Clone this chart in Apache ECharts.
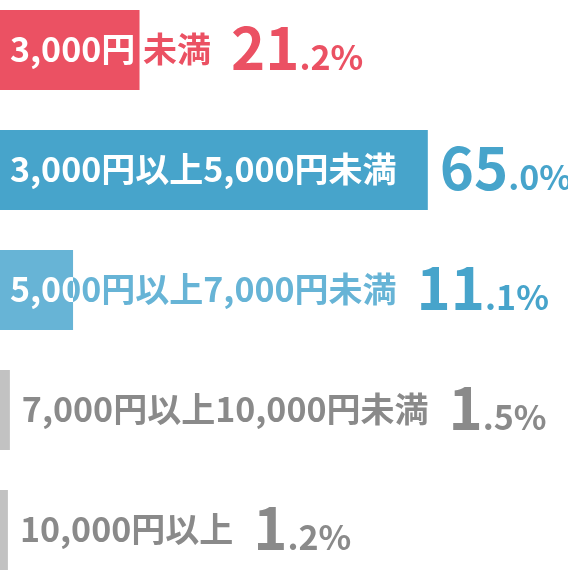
<!DOCTYPE html>
<html lang="ja">
<head>
<meta charset="UTF-8">
<title>価格帯別の割合</title>
<script src="https://cdn.jsdelivr.net/npm/echarts@6/dist/echarts.min.js"></script>
<style>
    html, body { margin: 0; padding: 0; background: #fff; }
    #chart { width: 568px; height: 570px; }
</style>
</head>
<body>
<div id="chart"></div>
<script>
    // 価格帯と割合(%)
    const categories = ['3,000円 未満', '3,000円以上5,000円未満', '5,000円以上7,000円未満', '7,000円以上10,000円未満', '10,000円以上'];
    const shares = [21.2, 65.0, 11.1, 1.5, 1.2];
    const barColors = ['#eb5163', '#47a4cb', '#67b4d6', '#c2c2c2', '#c2c2c2'];
    const labelColors = ['#eb5163', '#47a4cb', '#67b4d6', '#8a8a8a', '#8a8a8a'];
    const pctColors = ['#eb5163', '#47a4cb', '#47a4cb', '#8a8a8a', '#8a8a8a'];

    const FONT = '"Noto Sans CJK JP", "Noto Sans", sans-serif';
    const labelSize = 34, bigSize = 58, smallSize = 34;

    const ctx = document.createElement('canvas').getContext('2d');
    function textWidth(text, size) {
        ctx.font = 'bold ' + size + 'px ' + FONT;
        return ctx.measureText(text).width;
    }

    function textEl(x, y, text, size, color) {
        return {
            type: 'text', x: x, y: y,
            style: { text: text, fontSize: size, fontWeight: 'bold', fontFamily: FONT, fill: color, verticalAlign: 'middle' }
        };
    }

    function renderItem(params, api) {
        const i = params.dataIndex;
        const v = api.value(0);
        const start = api.coord([0, api.value(1)]);
        const end = api.coord([v, api.value(1)]);
        const h = api.size([0, 1])[1] * 2 / 3;
        const x0 = start[0], x1 = end[0], cy = end[1];
        const rect = { x: x0, y: cy - h / 2, width: x1 - x0, height: h };

        // 棒が細いときはラベルを棒の外側へ
        const labelX = (x1 - x0) < 20 ? x1 + 12 : x0 + 10;
        const labelW = textWidth(categories[i], labelSize);
        const pctX = Math.max(x1 + 12, labelX + labelW + 20);

        const parts = v.toFixed(1).split('.');
        const bigW = textWidth(parts[0], bigSize);

        return {
            type: 'group',
            children: [
                textEl(labelX, cy - 1, categories[i], labelSize, labelColors[i]),
                { type: 'rect', shape: rect, style: { fill: barColors[i] } },
                {
                    // 棒に重なる部分だけ白文字
                    type: 'group',
                    clipPath: { type: 'rect', shape: rect },
                    children: [textEl(labelX, cy - 1, categories[i], labelSize, '#fff')]
                },
                textEl(pctX, cy - 2, parts[0], bigSize, pctColors[i]),
                textEl(pctX + bigW, cy + 7, '.' + parts[1] + '%', smallSize, pctColors[i])
            ]
        };
    }

    const chart = echarts.init(document.getElementById('chart'));
    chart.setOption({
        animation: false,
        grid: { left: 0, right: 0, top: 0, bottom: 0 },
        xAxis: { type: 'value', min: 0, max: 86.3, show: false },
        // 行の位置は段番号(0〜4)で決める
        yAxis: { type: 'value', inverse: true, min: -50 / 120, max: 520 / 120, show: false },
        series: [{
            type: 'custom',
            renderItem: renderItem,
            encode: { x: 0, y: 1 },
            data: shares.map((v, i) => [v, i])
        }]
    });
</script>
</body>
</html>
